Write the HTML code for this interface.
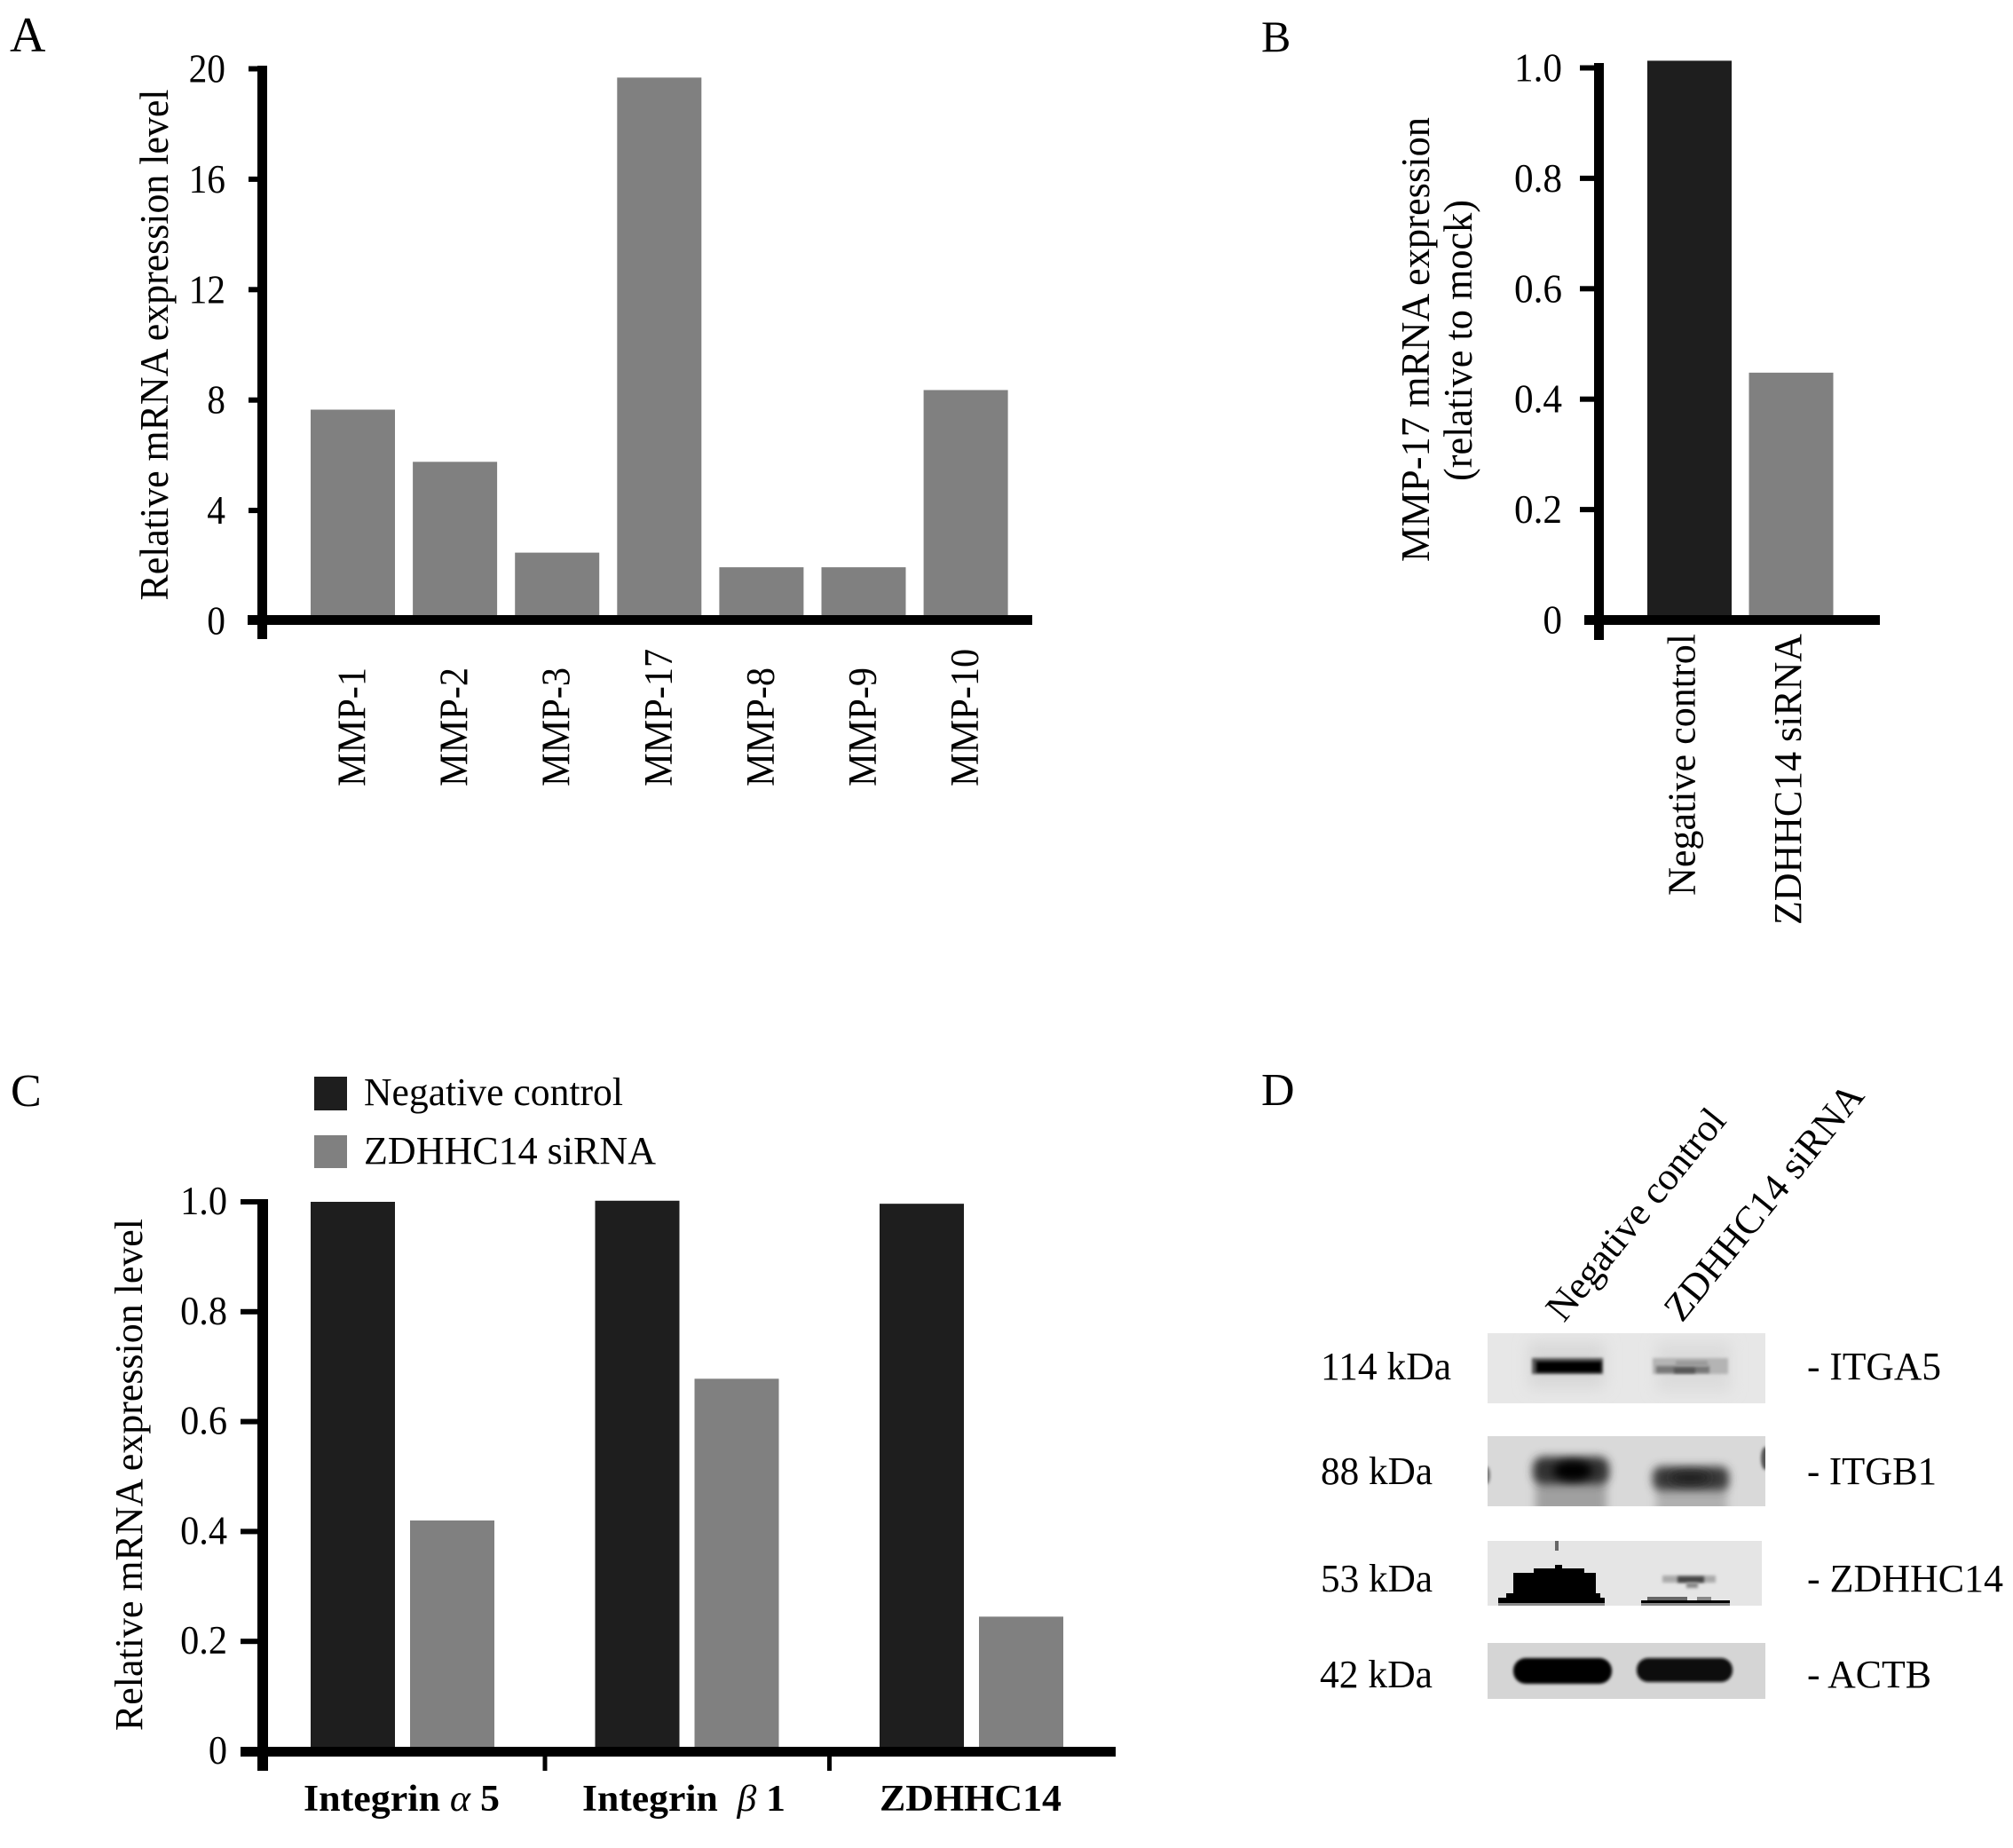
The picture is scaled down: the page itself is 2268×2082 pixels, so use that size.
<!DOCTYPE html>
<html lang="en">
<head>
<meta charset="utf-8">
<title>MMP and integrin expression panels</title>
<style>
html,body{margin:0;padding:0;background:#fff;}
svg{display:block;}
text{font-family:"Liberation Serif",serif;fill:#000;}
</style>
</head>
<body>
<svg id="fig" xmlns="http://www.w3.org/2000/svg" width="2268" height="2082" viewBox="0 0 2268 2082">
<defs>
<filter id="b1" x="-30%" y="-60%" width="160%" height="220%"><feGaussianBlur stdDeviation="1.5"/></filter>
<filter id="b2" x="-30%" y="-80%" width="160%" height="260%"><feGaussianBlur stdDeviation="5"/></filter>
<filter id="b3" x="-30%" y="-60%" width="160%" height="220%"><feGaussianBlur stdDeviation="8"/></filter>
<clipPath id="c1"><rect x="1676" y="1502" width="313" height="79"/></clipPath>
<clipPath id="c2"><rect x="1676" y="1618" width="313" height="79"/></clipPath>
<clipPath id="c3"><rect x="1676" y="1736" width="309" height="73"/></clipPath>
<clipPath id="c4"><rect x="1676" y="1851" width="313" height="63"/></clipPath>
</defs>
<rect width="2268" height="2082" fill="#fff"/>

<g id="panel-a">
<text x="11" y="58" font-size="56">A</text>
<text transform="translate(189,676.5) rotate(-90)" font-size="46" textLength="576" lengthAdjust="spacingAndGlyphs">Relative mRNA expression level</text>
</g>

<g id="panel-b">
<text x="1421" y="58" font-size="50">B</text>
<text transform="translate(1610,633) rotate(-90)" font-size="46" textLength="501" lengthAdjust="spacingAndGlyphs">MMP-17 mRNA expression</text>
<text transform="translate(1658,542) rotate(-90)" font-size="46" textLength="317" lengthAdjust="spacingAndGlyphs">(relative to mock)</text>
</g>

<g id="panel-c">
<text x="12" y="1246" font-size="52">C</text>
<text transform="translate(160,1950) rotate(-90)" font-size="44" textLength="577" lengthAdjust="spacingAndGlyphs">Relative mRNA expression level</text>
<rect x="354" y="1213" width="37" height="38" fill="#1e1e1e"/>
<text x="410" y="1245" font-size="44" textLength="292" lengthAdjust="spacingAndGlyphs">Negative control</text>
<rect x="354" y="1279" width="37" height="37" fill="#808080"/>
<text x="410" y="1311" font-size="44" textLength="329" lengthAdjust="spacingAndGlyphs">ZDHHC14 siRNA</text>
<text x="342" y="2040" font-size="42" font-weight="bold" textLength="221" lengthAdjust="spacingAndGlyphs">Integrin <tspan font-style="italic" font-weight="normal">α</tspan> 5</text>
<text x="656" y="2040" font-size="42" font-weight="bold" textLength="229" lengthAdjust="spacingAndGlyphs" xml:space="preserve">Integrin  <tspan font-style="italic" font-weight="normal">β</tspan> 1</text>
<text x="991" y="2040" font-size="42" font-weight="bold" textLength="205" lengthAdjust="spacingAndGlyphs">ZDHHC14</text>
</g>

<g id="panel-d">
<text x="1421" y="1245" font-size="52">D</text>
<text transform="translate(1762,1491) rotate(-51)" font-size="44" textLength="293" lengthAdjust="spacingAndGlyphs">Negative control</text>
<text transform="translate(1895,1491) rotate(-51)" font-size="44" textLength="329" lengthAdjust="spacingAndGlyphs">ZDHHC14 siRNA</text>

<g clip-path="url(#c1)">
<rect x="1676" y="1502" width="313" height="79" fill="#e7e7e7"/>
<rect x="1722" y="1512" width="86" height="52" fill="#d8d8d8" filter="url(#b3)"/>
<rect x="1866" y="1512" width="84" height="56" fill="#dcdcdc" filter="url(#b3)"/>
<rect x="1726" y="1530" width="80" height="18" fill="#555" filter="url(#b1)"/>
<rect x="1731" y="1534" width="73" height="12" fill="#000" filter="url(#b1)"/>
<rect x="1862" y="1530" width="85" height="18" fill="#b4b4b4" filter="url(#b1)"/>
<rect x="1866" y="1539" width="60" height="8" fill="#777" filter="url(#b1)"/>
<rect x="1888" y="1533" width="36" height="6" fill="#999" filter="url(#b1)"/>
<rect x="1886" y="1541" width="24" height="6" fill="#555" filter="url(#b1)"/>
</g>
<g clip-path="url(#c2)">
<rect x="1676" y="1618" width="313" height="79" fill="#d9d9d9"/>
<rect x="1730" y="1660" width="80" height="46" fill="#a0a0a0" filter="url(#b2)"/>
<rect x="1866" y="1670" width="80" height="36" fill="#b0b0b0" filter="url(#b2)"/>
<rect x="1727" y="1641" width="86" height="31" rx="12" fill="#303030" filter="url(#b2)"/>
<ellipse cx="1772" cy="1657" rx="22" ry="11" fill="#000" filter="url(#b2)"/>
<rect x="1862" y="1652" width="86" height="27" rx="10" fill="#3a3a3a" filter="url(#b2)"/>
<ellipse cx="1904" cy="1665" rx="24" ry="7" fill="#222" filter="url(#b2)"/>
<ellipse cx="1675" cy="1662" rx="4" ry="10" fill="#777" filter="url(#b1)"/>
<ellipse cx="1989" cy="1643" rx="5" ry="13" fill="#555" filter="url(#b1)"/>
</g>
<g clip-path="url(#c3)">
<rect x="1676" y="1736" width="309" height="73" fill="#e5e5e5"/>
<rect x="1752" y="1736" width="4" height="11" fill="#666"/>
<rect x="1688" y="1806" width="120" height="3" fill="#888"/>
<polygon points="1688,1806 1688,1800 1697,1800 1697,1795 1705,1795 1705,1772 1728,1772 1728,1767 1752,1767 1752,1763 1760,1763 1760,1767 1785,1767 1785,1772 1798,1772 1798,1795 1803,1795 1803,1800 1808,1800 1808,1806" fill="#000"/>
<rect x="1873" y="1775" width="60" height="8" fill="#aaa" filter="url(#b1)"/>
<rect x="1890" y="1776" width="30" height="7" fill="#444" filter="url(#b1)"/>
<rect x="1900" y="1783" width="13" height="6" fill="#888" filter="url(#b1)"/>
<rect x="1849" y="1806" width="100" height="3" fill="#888"/>
<rect x="1849" y="1803" width="100" height="3" fill="#000"/>
<rect x="1856" y="1799" width="45" height="4" fill="#666"/>
<rect x="1912" y="1799" width="16" height="4" fill="#888"/>
</g>
<g clip-path="url(#c4)">
<rect x="1676" y="1851" width="313" height="63" fill="#d5d5d5"/>
<rect x="1705" y="1868" width="111" height="29" rx="14" fill="#060606" filter="url(#b1)"/>
<rect x="1844" y="1868" width="108" height="27" rx="13" fill="#0a0a0a" filter="url(#b1)"/>
</g>

<text x="1488" y="1554" font-size="44" textLength="147" lengthAdjust="spacingAndGlyphs">114 kDa</text>
<text x="1488" y="1672" font-size="44" textLength="126" lengthAdjust="spacingAndGlyphs">88 kDa</text>
<text x="1488" y="1793" font-size="44" textLength="126" lengthAdjust="spacingAndGlyphs">53 kDa</text>
<text x="1487" y="1901" font-size="44" textLength="127" lengthAdjust="spacingAndGlyphs">42 kDa</text>
<text x="2036" y="1554" font-size="44" textLength="151" lengthAdjust="spacingAndGlyphs">- ITGA5</text>
<text x="2036" y="1672" font-size="44" textLength="146" lengthAdjust="spacingAndGlyphs">- ITGB1</text>
<text x="2036" y="1793" font-size="44" textLength="221" lengthAdjust="spacingAndGlyphs">- ZDHHC14</text>
<text x="2036" y="1901" font-size="44" textLength="140" lengthAdjust="spacingAndGlyphs">- ACTB</text>
</g>
</svg>

<script>
// Panel A data
const categoriesA = ['MMP-1', 'MMP-2', 'MMP-3', 'MMP-17', 'MMP-8', 'MMP-9', 'MMP-10'];
const valuesA = [7.62, 5.73, 2.44, 19.65, 1.91, 1.91, 8.33];
const ticksA = [0, 4, 8, 12, 16, 20];

// Panel B data
const categoriesB = ['Negative control', 'ZDHHC14 siRNA'];
const valuesB = [1.013, 0.448];
const ticksB = [0, 0.2, 0.4, 0.6, 0.8, 1.0];
const tickLabelsB = ['0', '0.2', '0.4', '0.6', '0.8', '1.0'];

// Panel C data
const groupsC = ['Integrin α 5', 'Integrin β 1', 'ZDHHC14'];
const negativeControlC = [1.0, 1.002, 0.9965];
const sirnaC = [0.42, 0.678, 0.245];
const ticksC = [0, 0.2, 0.4, 0.6, 0.8, 1.0];
const tickLabelsC = ['0', '0.2', '0.4', '0.6', '0.8', '1.0'];

const NS = 'http://www.w3.org/2000/svg';
const BLACK_BAR = '#1e1e1e';
const GRAY_BAR = '#808080';

// Axis functions
const yA = v => 698.5 - v * 31.1;
const xA = i => 350 + i * 115.1;
const yB = v => 698.5 - v * 622;
const xB = i => 1856 + i * 114.5;
const yC = v => 1973 - v * 619;
const xC = i => 350 + i * 320.5;

function addRect(parent, x, y, w, h, fill) {
  const el = document.createElementNS(NS, 'rect');
  el.setAttribute('x', x);
  el.setAttribute('y', y);
  el.setAttribute('width', w);
  el.setAttribute('height', h);
  el.setAttribute('fill', fill);
  parent.appendChild(el);
  return el;
}

function addTickLabel(parent, right, baseline, str, sx) {
  const el = document.createElementNS(NS, 'text');
  el.setAttribute('transform', 'translate(' + right + ',' + baseline + ') scale(' + sx + ',1)');
  el.setAttribute('text-anchor', 'end');
  el.setAttribute('font-size', '46');
  el.textContent = str;
  parent.appendChild(el);
  return el;
}

const panelA = document.getElementById('panel-a');
const panelB = document.getElementById('panel-b');
const panelC = document.getElementById('panel-c');

// Panel A bars
categoriesA.forEach(function (cat, i) {
  const bar = addRect(panelA, xA(i), yA(valuesA[i]), 95, yA(0) - yA(valuesA[i]), GRAY_BAR);
  
  
  const label = document.createElementNS(NS, 'text');
  label.setAttribute('transform', 'translate(' + (xA(i) + 47.5 + 14) + ',886) rotate(-90) scale(0.92,1)');
  label.setAttribute('font-size', '46');
  label.textContent = cat;
  
  
  panelA.appendChild(label);
});

// Panel A axes
const axisAy = addRect(panelA, 290, 74, 11, 646, '#000');


const axisAx = addRect(panelA, 279, 693, 884, 11, '#000');


ticksA.forEach(function (t) {
  if (t !== 0) {
    const tick = addRect(panelA, 280, yA(t) - 3 + 1, 10, 6, '#000');
    
    
  }
  const label = addTickLabel(panelA, 254, yA(t) + 16, String(t), 0.9);
  
  
});

// Panel B bars
categoriesB.forEach(function (cat, i) {
  const bar = addRect(panelB, xB(i), yB(valuesB[i]), 95, yB(0) - yB(valuesB[i]), i === 0 ? BLACK_BAR : GRAY_BAR);
  
  
  const label = document.createElementNS(NS, 'text');
  label.setAttribute('transform', 'translate(' + (xB(i) + 47.5 + 6 + i * 5) + ',' + (i === 0 ? 1009 : 1042) + ') rotate(-90)');
  label.setAttribute('font-size', '44');
  label.setAttribute('textLength', i === 0 ? '295' : '328');
  label.setAttribute('lengthAdjust', 'spacingAndGlyphs');
  label.textContent = cat;
  
  
  panelB.appendChild(label);
});

// Panel B axes
const axisBy = addRect(panelB, 1796, 71, 11, 650, '#000');


const axisBx = addRect(panelB, 1785, 693, 333, 11, '#000');


ticksB.forEach(function (t, i) {
  if (t !== 0) {
    const tick = addRect(panelB, 1780, yB(t) - 3, 17, 6, '#000');
    
    
  }
  const label = addTickLabel(panelB, 1760, yB(t) + 15, tickLabelsB[i], 0.94);
  
  
});

// Panel C bars
groupsC.forEach(function (g, i) {
  const a = addRect(panelC, xC(i), yC(negativeControlC[i]), 95, yC(0) - yC(negativeControlC[i]), BLACK_BAR);
  
  
  const b = addRect(panelC, xC(i) + 112, yC(sirnaC[i]), 95, yC(0) - yC(sirnaC[i]), GRAY_BAR);
  
  
});

// Panel C axes
const axisCy = addRect(panelC, 290, 1351, 12, 644, '#000');


const axisCx = addRect(panelC, 271, 1968, 986, 11, '#000');


groupsC.slice(1).forEach(function (g, i) {
  const sep = addRect(panelC, xC(i + 1) - 59, 1979, 5, 16, '#000');
  
  
});
ticksC.forEach(function (t, i) {
  if (t !== 0) {
    const tick = addRect(panelC, 271, yC(t) - 3, 19, 6, '#000');
    
    
  }
  const label = addTickLabel(panelC, 256, yC(t) + 14, tickLabelsC[i], 0.92);
  
  
});
</script>
</body>
</html>
